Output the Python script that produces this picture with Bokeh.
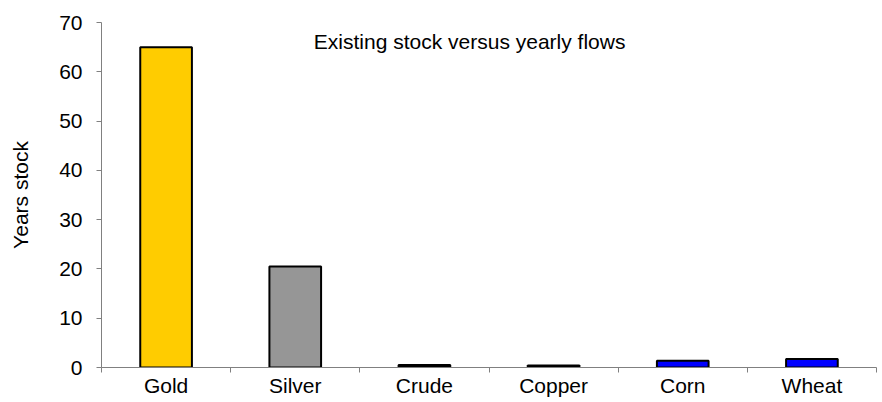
from bokeh.plotting import figure
from bokeh.models import Range1d, FixedTicker, SingleIntervalTicker, Label, ColumnDataSource
from bokeh.embed import file_html
from bokeh.resources import INLINE

categories = ["Gold", "Silver", "Crude", "Copper", "Corn", "Wheat"]
years_stock = [65.0, 20.5, 0.5, 0.4, 1.35, 1.7]
bar_colors = ["#FFCC00", "#969696", "#000000", "#000000", "#0000FF", "#0000FF"]
title_text = "Existing stock versus yearly flows"
y_label = "Years stock"
y_ticks_step = 10

FONT = "Liberation Sans"
FS = "21px"

n = len(categories)
centers = [i + 0.5 for i in range(n)]
bounds = [i for i in range(n + 1)]

source = ColumnDataSource(dict(x=centers, top=years_stock, color=bar_colors, cat=categories))

p = figure(width=882, height=402, output_backend="svg", toolbar_location=None,
           x_range=Range1d(0, n), y_range=Range1d(0, 70),
           min_border_left=101, min_border_right=6, min_border_top=22, min_border_bottom=35)
p.outline_line_color = None
p.xgrid.grid_line_color = None
p.ygrid.grid_line_color = None
p.background_fill_color = "white"
p.border_fill_color = "white"

p.vbar(x="x", top="top", width=0.4, bottom=0, fill_color="color",
       line_color="black", line_width=2, source=source)

# x axis
xa = p.xaxis[0]
xa.ticker = FixedTicker(ticks=centers, minor_ticks=bounds)
xa.major_label_overrides = {c: lab for c, lab in zip(centers, categories)}
xa.major_tick_line_color = None
xa.major_tick_out = 5
xa.major_tick_in = 0
xa.minor_tick_out = 5
xa.minor_tick_in = 0
xa.minor_tick_line_color = "#808080"
xa.axis_line_color = "#808080"
xa.major_label_text_font = FONT
xa.major_label_text_font_size = FS
xa.major_label_text_color = "black"
xa.major_label_standoff = 1

# y axis
ya = p.yaxis[0]
ya.ticker = SingleIntervalTicker(interval=y_ticks_step, num_minor_ticks=0)
ya.major_tick_out = 5
ya.major_tick_in = 0
ya.minor_tick_line_color = None
ya.major_tick_line_color = "#808080"
ya.axis_line_color = "#808080"
ya.major_label_text_font = FONT
ya.major_label_text_font_size = FS
ya.major_label_text_color = "black"
ya.major_label_standoff = 14
ya.axis_label = y_label
ya.axis_label_text_font = FONT
ya.axis_label_text_font_size = FS
ya.axis_label_text_font_style = "normal"
ya.axis_label_text_color = "black"
ya.axis_label_standoff = 24

p.add_layout(Label(x=2.85, y=66.2, text=title_text, text_align="center",
                   text_baseline="alphabetic", text_font=FONT, text_font_size=FS,
                   text_color="black"))

open("out.html", "w").write(file_html(p, INLINE))
